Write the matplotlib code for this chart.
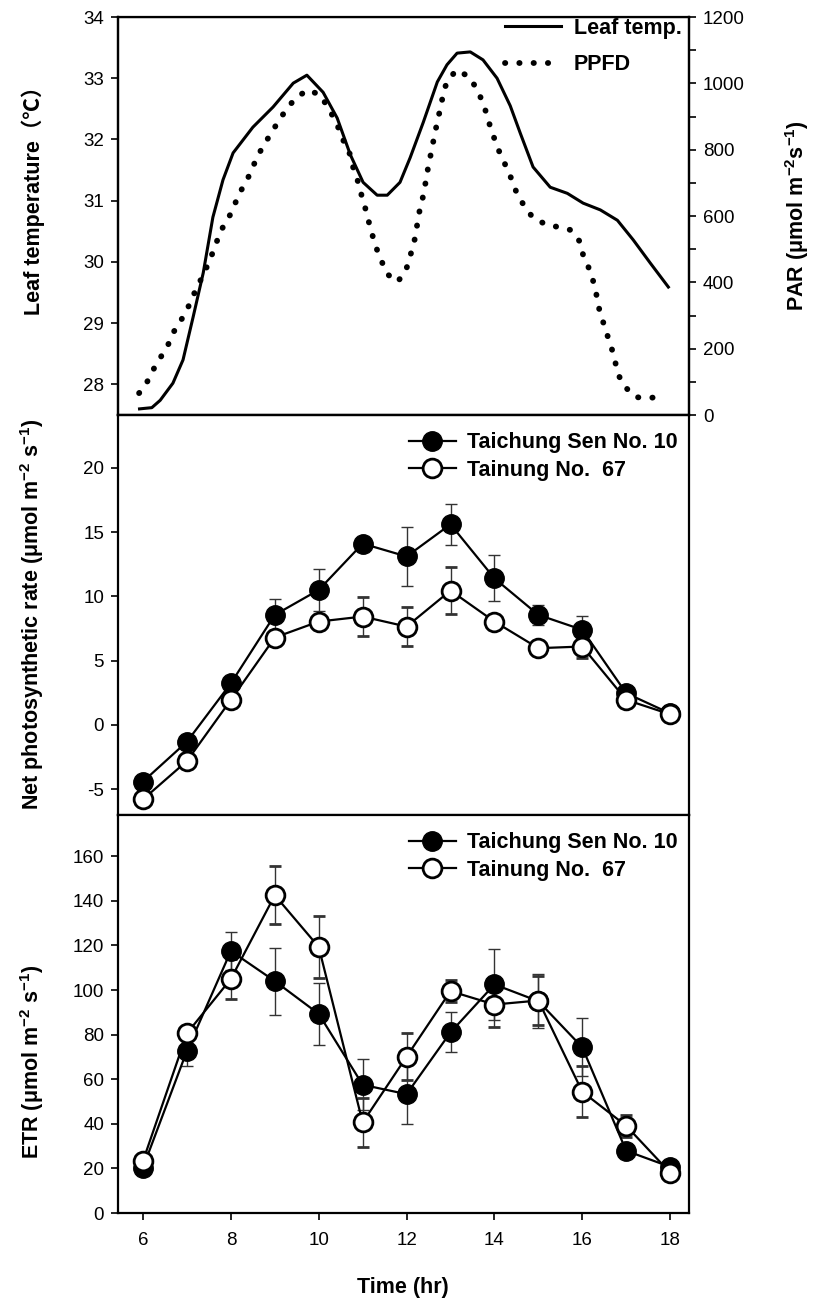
import numpy as np
import matplotlib
matplotlib.use("Agg")
import matplotlib.pyplot as plt

plt.rcParams['font.family'] = ['Liberation Sans', 'Noto Sans CJK TC', 'DejaVu Sans']
plt.rcParams['mathtext.default'] = 'regular'
plt.rcParams['axes.unicode_minus'] = False

# ---- panel 1: leaf temperature and PPFD over the day
leaf_hr = [5.92, 6.2, 6.39, 6.68, 6.91, 7.14, 7.37, 7.59, 7.82, 8.05, 8.5, 8.96, 9.42, 9.73,
           10.1, 10.42, 10.72, 11.01, 11.33, 11.56, 11.85, 12.08, 12.38, 12.70, 12.92, 13.15,
           13.45, 13.74, 14.06, 14.36, 14.59, 14.88, 15.27, 15.66, 16.02, 16.41, 16.80,
           17.16, 17.55, 17.96]
leaf_temp = [27.6, 27.62, 27.74, 28.02, 28.40, 29.1, 29.82, 30.73, 31.34, 31.78, 32.2, 32.53,
             32.92, 33.05, 32.77, 32.35, 31.75, 31.30, 31.09, 31.09, 31.30, 31.70, 32.28, 32.94,
             33.22, 33.41, 33.43, 33.30, 33.0, 32.55, 32.1, 31.55, 31.22, 31.12, 30.96, 30.85,
             30.68, 30.36, 29.98, 29.59]

ppfd_hr = [5.91, 6.09, 6.23, 6.39, 6.55, 6.68, 6.84, 7.0, 7.12, 7.23, 7.37, 7.53, 7.71, 7.82,
           7.98, 8.10, 8.21, 8.37, 8.50, 8.62, 8.78, 8.93, 9.10, 9.28, 9.5, 9.76, 10.03, 10.21,
           10.37, 10.49, 10.60, 10.72, 10.78, 10.87, 10.94, 11.03, 11.10, 11.17, 11.24, 11.33,
           11.44, 11.56, 11.79, 11.97, 12.06, 12.13, 12.20, 12.24, 12.29, 12.36, 12.40, 12.47,
           12.49, 12.56, 12.61, 12.67, 12.72, 12.79, 12.83, 12.92, 13.13, 13.40, 13.59, 13.70,
           13.81, 13.88, 13.97, 14.09, 14.20, 14.29, 14.43, 14.52, 14.70, 14.88, 15.20, 15.45,
           15.73, 15.95, 16.02, 16.14, 16.23, 16.30, 16.36, 16.41, 16.52, 16.59, 16.68, 16.75,
           16.82, 16.98, 17.21, 17.48, 17.73]
ppfd = [66, 99, 136, 172, 205, 247, 280, 317, 353, 386, 422, 470, 534, 567, 603, 639, 672,
        709, 748, 784, 820, 853, 889, 925, 959, 980, 965, 928, 889, 853, 814, 784, 748, 715,
        678, 639, 603, 567, 534, 497, 461, 425, 401, 431, 467, 503, 537, 573, 612, 648, 684,
        718, 754, 790, 826, 865, 898, 932, 971, 1004, 1040, 1022, 986, 953, 913, 880, 844,
        800, 770, 740, 700, 663, 627, 594, 573, 567, 558, 522, 482, 446, 413, 377, 338, 302,
        265, 232, 196, 160, 121, 84, 54, 51, 54]

# ---- panels 2 and 3: hourly measurements of two cultivars
hours = [6, 7, 8, 9, 10, 11, 12, 13, 14, 15, 16, 17, 18]
cultivars = ['Taichung Sen No. 10', 'Tainung No.  67']

pn_tcs10 = [-4.4, -1.3, 3.24, 8.56, 10.5, 14.1, 13.1, 15.6, 11.4, 8.56, 7.4, 2.47, 0.9]
pn_tcs10_err = [0.3, 0.3, 0.4, 1.2, 1.6, 0.3, 2.3, 1.6, 1.8, 0.8, 1.1, 0.3, 0.2]
pn_tn67 = [-5.78, -2.8, 1.95, 6.8, 8.04, 8.43, 7.65, 10.45, 8.04, 5.97, 6.1, 1.95, 0.83]
pn_tn67_err = [0.3, 0.3, 0.3, 0.4, 0.5, 1.5, 1.5, 1.85, 0.4, 0.3, 0.9, 0.3, 0.2]

etr_tcs10 = [20.4, 72.8, 117.5, 104, 89.3, 57.5, 53.3, 81, 102.5, 95, 74.3, 27.9, 20.7]
etr_tcs10_err = [1.5, 7, 8.5, 15, 14, 11.5, 13.5, 9, 16, 12, 13, 3, 1.5]
etr_tn67 = [23.4, 80.6, 105, 142.5, 119.3, 40.6, 70.1, 99.5, 93.5, 95.3, 54.4, 39.1, 18.1]
etr_tn67_err = [1.5, 3, 9, 13, 14, 11, 10.5, 5, 10, 11, 11.5, 5, 1.5]

fig = plt.figure(figsize=(8.15, 13.03), dpi=100)
L, W = 0.1448, 0.7006
ax1 = fig.add_axes([L, 0.6815, W, 0.30545])
ax2 = fig.add_axes([L, 0.37452, W, 0.30698])
ax3 = fig.add_axes([L, 0.06907, W, 0.30545])

xlim = (5.43, 18.43)
tick_kw = dict(direction='out', length=5, width=1.2, labelsize=13.5, pad=5)

# panel 1
ax1.plot(leaf_hr, leaf_temp, color='black', lw=2.2, label='Leaf temp.')
ax1r = ax1.twinx()
ax1r.plot(ppfd_hr, ppfd, color='black', lw=4.2, linestyle=(0, (0.05, 2.4)),
          dash_capstyle='round', label='PPFD')
ax1.set_xlim(xlim)
ax1.set_ylim(27.5, 34)
ax1.set_yticks([28, 29, 30, 31, 32, 33, 34])
ax1r.set_ylim(0, 1200)
ax1r.set_yticks(range(0, 1201, 200))
ax1r.set_yticks(range(100, 1200, 200), minor=True)
ax1.set_xticks([])
ax1.tick_params(axis='y', **tick_kw)
ax1r.tick_params(axis='y', **tick_kw)
ax1r.tick_params(axis='y', which='minor', direction='out', length=5, width=1.2)
h1, l1 = ax1.get_legend_handles_labels()
h2, l2 = ax1r.get_legend_handles_labels()
ax1r.legend(h1 + h2, l1 + l2, loc='upper right', bbox_to_anchor=(1.01, 1.03),
            frameon=False, prop=dict(weight='bold', size=15.5), handlelength=2.6,
            labelspacing=0.7, handletextpad=0.6, borderaxespad=0.2)


def cultivar_panel(ax, a, a_err, b, b_err):
    ca = ax.errorbar(hours, a, yerr=a_err, fmt='-o', color='black', lw=1.6, ms=14,
                     mfc='black', mec='black', ecolor='#333333', elinewidth=1.0,
                     capsize=4, capthick=1.0)
    cb = ax.errorbar(hours, b, yerr=b_err, fmt='-o', color='black', lw=1.6, ms=13.5,
                     mfc='white', mec='black', mew=2.0, ecolor='#333333', elinewidth=1.0,
                     capsize=4, capthick=1.0)
    ax.set_xlim(xlim)
    ax.tick_params(axis='y', **tick_kw)
    ax.legend([ca.lines[0], cb.lines[0]], cultivars, loc='upper right',
              bbox_to_anchor=(1.01, 1.0), frameon=False,
              prop=dict(weight='bold', size=15.5), handlelength=2.2, labelspacing=0.3,
              handletextpad=0.5, borderaxespad=0.4)


cultivar_panel(ax2, pn_tcs10, pn_tcs10_err, pn_tn67, pn_tn67_err)
ax2.set_ylim(-7, 24.1)
ax2.set_yticks([-5, 0, 5, 10, 15, 20])
ax2.set_xticks([])

cultivar_panel(ax3, etr_tcs10, etr_tcs10_err, etr_tn67, etr_tn67_err)
ax3.set_ylim(0, 178.5)
ax3.set_yticks(range(0, 161, 20))
ax3.set_xticks([6, 8, 10, 12, 14, 16, 18])
ax3.tick_params(axis='x', direction='out', length=5, width=1.2, labelsize=13.5, pad=9)

for ax in (ax1, ax1r, ax2, ax3):
    for s in ax.spines.values():
        s.set_linewidth(1.6)
ax1.spines['top'].set_linewidth(1.0)
ax1.spines['top'].set_color('#555555')

lab = dict(rotation=90, ha='center', va='center', fontsize=15.5, fontweight='bold')
fig.text(33 / 815, 1 - 195 / 1303, 'Leaf temperature（℃）', **lab)
fig.text(32 / 815, 1 - 614 / 1303, 'Net photosynthetic rate (μmol m$^{-2}$ s$^{-1}$)', **lab)
fig.text(32 / 815, 1 - 1062 / 1303, 'ETR (μmol m$^{-2}$ s$^{-1}$)', **lab)
fig.text(797 / 815, 1 - 216 / 1303, 'PAR (μmol m$^{-2}$s$^{-1}$)', **lab)
fig.text(403 / 815, 1 - 1287 / 1303, 'Time (hr)', ha='center', va='center',
         fontsize=15.5, fontweight='bold')

fig.savefig('out.png', dpi=100)
